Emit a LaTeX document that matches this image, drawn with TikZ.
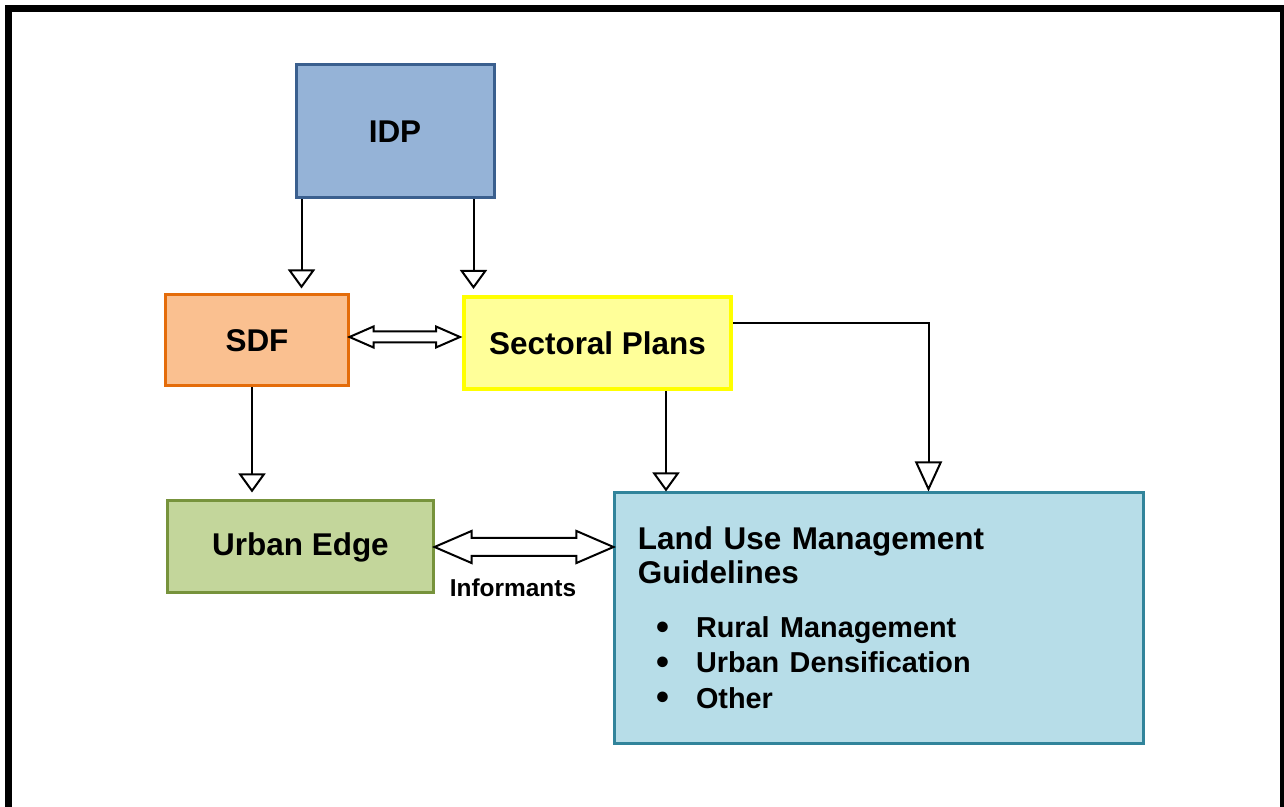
\documentclass[tikz,border=0pt]{standalone}
\usepackage{fontspec}
\setmainfont{Liberation Sans}
\usetikzlibrary{arrows.meta,calc,positioning}

\definecolor{idpfill}{HTML}{95B3D7}
\definecolor{idpline}{HTML}{3A5F8E}
\definecolor{sdffill}{HTML}{FAC090}
\definecolor{sdfline}{HTML}{E46C0A}
\definecolor{spfill}{HTML}{FFFF99}
\definecolor{spline}{HTML}{FFFF00}
\definecolor{uefill}{HTML}{C3D69B}
\definecolor{ueline}{HTML}{77933C}
\definecolor{lumfill}{HTML}{B7DDE8}
\definecolor{lumline}{HTML}{31849B}

% block double arrow: start, end, shaft half, head half, head length
\newcommand{\dblarrow}[5]{%
  \draw[blockarrow] (#1) -- ++(#5,-#4) -- ++(0,{#4-#3}) -- ($(#2)+(-#5,-#3)$)
    -- ++(0,{#3-#4}) -- (#2) -- ++(-#5,#4) -- ++(0,{#3-#4})
    -- ($(#1)+(#5,#3)$) -- ++(0,{#4-#3}) -- cycle;}
\newcommand{\lumitem}[1]{{\fontsize{16.4}{19.3}\selectfont\hspace*{3.7mm}\makebox[7.9mm][l]{\fontsize{21}{19}\selectfont\raisebox{-0.3mm}{\textbullet}}#1}}

\begin{document}
\begin{tikzpicture}
[x=0.2mm,y=-0.2mm,
 font=\bfseries\fontsize{17.9}{21}\selectfont,
 box/.style={draw,line width=0.6mm,inner sep=0pt},
 flow/.style={draw,line width=0.4mm,-{Triangle[open,length=3.8mm,width=5.4mm]}},
 bigflow/.style={flow,-{Triangle[open,length=6mm,width=5.4mm]}},
 blockarrow/.style={draw,line width=0.4mm,fill=white,line join=miter}]
\useasboundingbox (0,0) rectangle (1284,807);
\clip (0,0) rectangle (1284,807);
% frame
\draw[line width=1.35mm] (8.4,830) -- (8.4,8.4) -- (1283.5,8.4) -- (1283.5,830);

\node (idp) at (395,131.5) [box,fill=idpfill,draw=idpline,minimum width=39.6mm,minimum height=26.6mm] {IDP};
\node (sdf) at (257,340.5) [box,fill=sdffill,draw=sdfline,minimum width=36.4mm,minimum height=18.2mm] {SDF};
\node (sp) at (597.5,343) [box,fill=spfill,draw=spline,line width=0.8mm,minimum width=53.4mm,minimum height=18.4mm] {Sectoral Plans};
\node (ue) at (300.5,547) [box,fill=uefill,draw=ueline,minimum width=53mm,minimum height=18.4mm] {Urban Edge};
\node (lum) at (879,618.5) [box,fill=lumfill,draw=lumline,minimum width=105.6mm,minimum height=50.2mm,
  text width=96.4mm,align=left,font=\bfseries\fontsize{17.9}{19.3}\selectfont] {Land Use Management\\Guidelines\\[11.3pt]
  \lumitem{Rural Management}\\[0.8pt]
  \lumitem{Urban Densification}\\[0.8pt]
  \lumitem{Other}};
\node (inf) at (513,588) [font=\bfseries\fontsize{13.9}{16}\selectfont] {Informants};

% downward links
\coordinate (idpa) at ($(idp.south west)+(7,0)$);
\coordinate (idpb) at ($(idp.south west)+(179,0)$);
\coordinate (sdfa) at ($(sdf.south)+(-5,0)$);
\coordinate (spa) at ($(sp.south west)+(204,0)$);
\coordinate (spb) at ($(sp.east)+(0,-20)$);
\draw[flow,shorten >=1mm] (idpa) -- (idpa |- sdf.north);
\draw[flow,shorten >=1.2mm] (idpb) -- (idpb |- sp.north);
\draw[flow,shorten >=1.4mm] (sdfa) -- (sdfa |- ue.north);
\draw[flow] (spa) -- (spa |- lum.north);
\draw[bigflow] (spb) -| ($(lum.north west)+(315,0)$);

% two-way links
\coordinate (da) at ($(sdf.east)+(0,-3.5)$);
\coordinate (db) at ($(da -| sp.west)+(-2,0)$);
\dblarrow{da}{db}{5.5}{10.5}{24}
\coordinate (dc) at (ue.east);
\coordinate (dd) at (ue.east -| lum.west);
\dblarrow{dc}{dd}{9}{16}{37}
\end{tikzpicture}
\end{document}
